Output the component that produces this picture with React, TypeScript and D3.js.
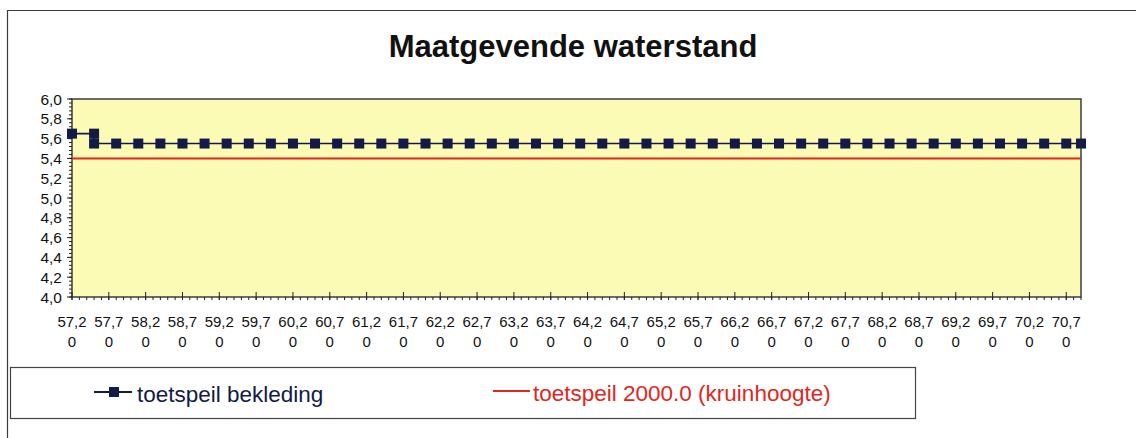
import React, { useRef, useEffect } from 'react';
import { select, scaleLinear, line, range } from 'd3';

// toetspeil bekleding
const bekledingX = [
  57.2, 57.5, 57.5, 57.8, 58.1, 58.4, 58.7, 59.0, 59.3, 59.6, 59.9, 60.2, 60.5,
  60.8, 61.1, 61.4, 61.7, 62.0, 62.3, 62.6, 62.9, 63.2, 63.5, 63.8, 64.1, 64.4,
  64.7, 65.0, 65.3, 65.6, 65.9, 66.2, 66.5, 66.8, 67.1, 67.4, 67.7, 68.0, 68.3,
  68.6, 68.9, 69.2, 69.5, 69.8, 70.1, 70.4, 70.7, 70.9,
];
const bekledingY = [
  5.65, 5.65, 5.55, 5.55, 5.55, 5.55, 5.55, 5.55, 5.55, 5.55, 5.55, 5.55, 5.55,
  5.55, 5.55, 5.55, 5.55, 5.55, 5.55, 5.55, 5.55, 5.55, 5.55, 5.55, 5.55, 5.55,
  5.55, 5.55, 5.55, 5.55, 5.55, 5.55, 5.55, 5.55, 5.55, 5.55, 5.55, 5.55, 5.55,
  5.55, 5.55, 5.55, 5.55, 5.55, 5.55, 5.55, 5.55, 5.55,
];

// toetspeil 2000.0 (kruinhoogte)
const kruinX = [57.2, 70.9];
const kruinY = [5.4, 5.4];

const xTickLabels = [
  '57,20', '57,70', '58,20', '58,70', '59,20', '59,70', '60,20', '60,70',
  '61,20', '61,70', '62,20', '62,70', '63,20', '63,70', '64,20', '64,70',
  '65,20', '65,70', '66,20', '66,70', '67,20', '67,70', '68,20', '68,70',
  '69,20', '69,70', '70,20', '70,70',
];
const yTickLabels = ['4,0', '4,2', '4,4', '4,6', '4,8', '5,0', '5,2', '5,4', '5,6', '5,8', '6,0'];

const title = 'Maatgevende waterstand';
const legendLabels = ['toetspeil bekleding', 'toetspeil 2000.0 (kruinhoogte)'];

const dimensions = {
  width: 1136,
  height: 438,
  left: 72,
  right: 1081,
  top: 99,
  bottom: 297,
};

const font = '"Liberation Sans", Arial, sans-serif';
const navy = '#121a45';
const red = '#e3261c';

const App = () => {
  const svgRef = useRef(null);

  useEffect(() => {
    const svg = select(svgRef.current);
    svg.selectAll('*').remove();

    const xScale = scaleLinear()
      .domain([57.2, 70.9])
      .range([dimensions.left, dimensions.right]);
    const yScale = scaleLinear()
      .domain([4, 6])
      .range([dimensions.bottom, dimensions.top]);

    // outer frame
    svg
      .append('path')
      .attr('d', `M7.5,${dimensions.height} V10.5 H${dimensions.width}`)
      .attr('fill', 'none')
      .attr('stroke', '#3a3a3a')
      .attr('stroke-width', 1.2);

    svg
      .append('text')
      .attr('x', 573)
      .attr('y', 56.5)
      .attr('text-anchor', 'middle')
      .attr('font-family', font)
      .attr('font-weight', 'bold')
      .attr('font-size', 31)
      .attr('fill', '#111')
      .text(title);

    // plot area
    svg
      .append('rect')
      .attr('x', dimensions.left)
      .attr('y', dimensions.top)
      .attr('width', dimensions.right - dimensions.left)
      .attr('height', dimensions.bottom - dimensions.top)
      .attr('fill', '#fcfbb6')
      .attr('stroke', '#3c3c3c')
      .attr('stroke-width', 1.5);

    // y axis
    const yAxis = svg.append('g').attr('stroke', '#222');
    yAxis
      .selectAll('line.minor')
      .data(range(4, 6.001, 0.04))
      .join('line')
      .attr('class', 'minor')
      .attr('x1', dimensions.left - 3)
      .attr('x2', dimensions.left)
      .attr('y1', (d) => yScale(d))
      .attr('y2', (d) => yScale(d));
    yAxis
      .selectAll('line.major')
      .data(yTickLabels)
      .join('line')
      .attr('class', 'major')
      .attr('x1', dimensions.left - 5)
      .attr('x2', dimensions.left)
      .attr('y1', (d) => yScale(parseFloat(d.replace(',', '.'))))
      .attr('y2', (d) => yScale(parseFloat(d.replace(',', '.'))));
    svg
      .append('g')
      .selectAll('text')
      .data(yTickLabels)
      .join('text')
      .attr('x', 62)
      .attr('y', (d) => yScale(parseFloat(d.replace(',', '.'))) + 5.5)
      .attr('text-anchor', 'end')
      .attr('font-family', font)
      .attr('font-size', 15.5)
      .attr('fill', '#111')
      .text((d) => d);

    // x axis
    const xAxis = svg.append('g').attr('stroke', '#222');
    xAxis
      .selectAll('line.minor')
      .data(range(57.2, 70.95, 0.1))
      .join('line')
      .attr('class', 'minor')
      .attr('x1', (d) => xScale(d))
      .attr('x2', (d) => xScale(d))
      .attr('y1', dimensions.bottom)
      .attr('y2', dimensions.bottom + 3);
    xAxis
      .selectAll('line.major')
      .data(xTickLabels)
      .join('line')
      .attr('class', 'major')
      .attr('x1', (d) => xScale(parseFloat(d.replace(',', '.'))))
      .attr('x2', (d) => xScale(parseFloat(d.replace(',', '.'))))
      .attr('y1', dimensions.bottom - 5)
      .attr('y2', dimensions.bottom + 3);
    const xLabels = svg
      .append('g')
      .attr('font-family', font)
      .attr('font-size', 15)
      .attr('fill', '#111')
      .attr('text-anchor', 'middle')
      .selectAll('text')
      .data(xTickLabels)
      .join('text')
      .attr('x', (d) => xScale(parseFloat(d.replace(',', '.'))));
    xLabels
      .append('tspan')
      .attr('x', (d) => xScale(parseFloat(d.replace(',', '.'))))
      .attr('y', 327)
      .text((d) => d.slice(0, -1));
    xLabels
      .append('tspan')
      .attr('x', (d) => xScale(parseFloat(d.replace(',', '.'))))
      .attr('y', 347)
      .text((d) => d.slice(-1));

    // series
    const kruinLine = line<number>()
      .x((d) => xScale(d))
      .y((_, i) => yScale(kruinY[i]));
    svg
      .append('path')
      .attr('d', kruinLine(kruinX))
      .attr('fill', 'none')
      .attr('stroke', red)
      .attr('stroke-width', 2);

    const bekledingLine = line<number>()
      .x((d) => xScale(d))
      .y((_, i) => yScale(bekledingY[i]));
    svg
      .append('path')
      .attr('d', bekledingLine(bekledingX))
      .attr('fill', 'none')
      .attr('stroke', navy)
      .attr('stroke-width', 1.6);
    svg
      .append('g')
      .selectAll('rect')
      .data(bekledingX)
      .join('rect')
      .attr('x', (d) => xScale(d) - 5)
      .attr('y', (_, i) => yScale(bekledingY[i]) - 5)
      .attr('width', 10)
      .attr('height', 10)
      .attr('fill', navy);

    // legend
    svg
      .append('rect')
      .attr('x', 10.5)
      .attr('y', 367.5)
      .attr('width', 905)
      .attr('height', 51)
      .attr('fill', 'none')
      .attr('stroke', '#444')
      .attr('stroke-width', 1.2);

    const legend = svg.append('g').attr('font-family', font).attr('font-size', 22.5);
    legend
      .append('line')
      .attr('x1', 94)
      .attr('x2', 132)
      .attr('y1', 392)
      .attr('y2', 392)
      .attr('stroke', navy)
      .attr('stroke-width', 2);
    legend
      .append('rect')
      .attr('x', 109)
      .attr('y', 387)
      .attr('width', 10)
      .attr('height', 10)
      .attr('fill', navy);
    legend
      .append('text')
      .attr('x', 137)
      .attr('y', 402)
      .attr('fill', navy)
      .text(legendLabels[0]);
    legend
      .append('line')
      .attr('x1', 493)
      .attr('x2', 530)
      .attr('y1', 391)
      .attr('y2', 391)
      .attr('stroke', red)
      .attr('stroke-width', 2);
    legend
      .append('text')
      .attr('x', 533)
      .attr('y', 401)
      .attr('fill', red)
      .text(legendLabels[1]);
  }, []);

  return (
    <svg
      ref={svgRef}
      width={dimensions.width}
      height={dimensions.height}
      style={{ position: 'absolute', left: 0, top: 0, background: '#fff' }}
    ></svg>
  );
};

export default App;
